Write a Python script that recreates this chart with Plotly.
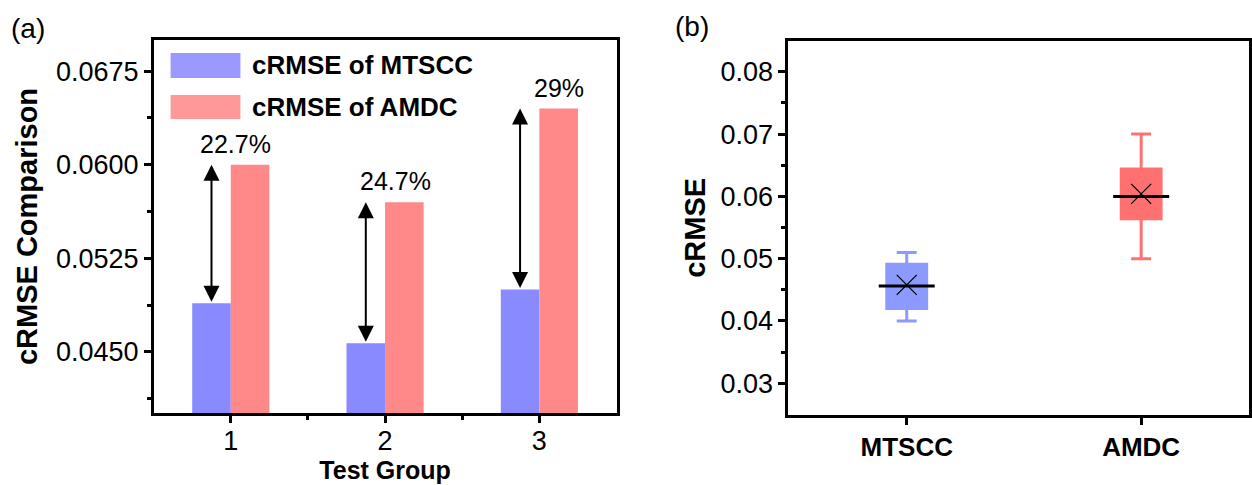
import plotly.graph_objects as go

# ---------------- data ----------------
groups = [1, 2, 3]
mtscc_vals = [0.0489, 0.0457, 0.0500]
amdc_vals = [0.0600, 0.0570, 0.0645]
pct_labels = ["22.7%", "24.7%", "29%"]
pct_label_dx = [0.03, 0.07, 0.13]          # horizontal nudge of the % labels (axis units)

box_names = ["MTSCC", "AMDC"]
box_q1 = [0.0420, 0.0564]
box_median = [0.0456, 0.0600]
box_q3 = [0.0491, 0.0644]
box_low = [0.0400, 0.0500]
box_high = [0.0510, 0.0700]
box_mean = [0.0458, 0.0604]

# ---------------- style ----------------
FONT = "Arial, Liberation Sans, sans-serif"
BLUE_BAR = "#8A8AFF"
RED_BAR = "#FF8888"
BLUE_LEG = "#9999FF"
RED_LEG = "#FF9999"
BLUE_BOX = "#8C99FF"
RED_BOX = "#FF7070"
BAR_W = 0.25

W, H = 1252, 485
fig = go.Figure()

# ---------- panel (a): grouped bars ----------
fig.add_trace(go.Bar(x=groups, y=mtscc_vals, name="cRMSE of MTSCC",
                     marker=dict(color=BLUE_BAR, line=dict(width=0)),
                     xaxis="x", yaxis="y", showlegend=False))
fig.add_trace(go.Bar(x=groups, y=amdc_vals, name="cRMSE of AMDC",
                     marker=dict(color=RED_BAR, line=dict(width=0)),
                     xaxis="x", yaxis="y", showlegend=False))

annotations = []
for g, m, a, lab, dx in zip(groups, mtscc_vals, amdc_vals, pct_labels, pct_label_dx):
    xa = g - BAR_W / 2
    annotations.append(dict(x=xa, y=a, ax=xa, ay=m, xref="x", yref="y", axref="x", ayref="y",
                            text="", showarrow=True, arrowhead=2, startarrowhead=2,
                            arrowside="end+start", arrowsize=1.6, startarrowsize=1.6,
                            arrowwidth=2, arrowcolor="black", standoff=0, startstandoff=0))
    annotations.append(dict(x=g + dx, y=a + 0.0004, xref="x", yref="y", text=lab,
                            showarrow=False, yanchor="bottom", xanchor="center",
                            font=dict(family=FONT, size=25, color="black")))

# custom legend (large swatches like the reference)
shapes = []
leg_items = [("cRMSE of MTSCC", BLUE_LEG, 53, 78), ("cRMSE of AMDC", RED_LEG, 95, 119)]
for text, col, y0, y1 in leg_items:
    shapes.append(dict(type="rect", xref="paper", yref="paper",
                       x0=171 / W, x1=241 / W, y0=1 - y1 / H, y1=1 - y0 / H,
                       fillcolor=col, line=dict(width=0)))
    annotations.append(dict(x=251 / W, y=1 - (y0 + y1) / 2 / H, xref="paper", yref="paper",
                            text=text, showarrow=False, xanchor="left", yanchor="middle",
                            font=dict(family=FONT, size=26, color="black", weight="bold")))

# ---------- panel (b): box plots ----------
for name, q1, med, q3, lo, hi, col in zip(box_names, box_q1, box_median, box_q3,
                                           box_low, box_high, [BLUE_BOX, RED_BOX]):
    fig.add_trace(go.Box(x=[name], q1=[q1], median=[med], q3=[q3],
                         lowerfence=[lo], upperfence=[hi],
                         fillcolor=col, line=dict(color=col, width=3),
                         width=0.17, whiskerwidth=0.5, boxpoints=False,
                         xaxis="x2", yaxis="y2", showlegend=False, name=name))
# median lines (black) and mean markers (X)
fig.add_trace(go.Scatter(x=box_names, y=box_median, mode="markers",
                         marker=dict(symbol="line-ew", size=40, color="black",
                                     line=dict(width=3, color="black")),
                         xaxis="x2", yaxis="y2", showlegend=False))
fig.add_trace(go.Scatter(x=box_names, y=box_mean, mode="markers",
                         marker=dict(symbol="x-thin", size=20, color="black",
                                     line=dict(width=1.3, color="black")),
                         xaxis="x2", yaxis="y2", showlegend=False))

# panel labels
annotations.append(dict(x=9 / W, y=1 - 28 / H, xref="paper", yref="paper", text="(a)",
                        showarrow=False, xanchor="left", yanchor="middle",
                        font=dict(family=FONT, size=28, color="black")))
annotations.append(dict(x=675 / W, y=1 - 26 / H, xref="paper", yref="paper", text="(b)",
                        showarrow=False, xanchor="left", yanchor="middle",
                        font=dict(family=FONT, size=28, color="black")))

axis_common = dict(showline=True, linecolor="black", linewidth=2.5, mirror=True,
                   ticks="outside", tickcolor="black", tickwidth=2.5, ticklen=7,
                   showgrid=False, zeroline=False,
                   tickfont=dict(family=FONT, size=27, color="black"))

fig.update_layout(
    width=W, height=H,
    margin=dict(l=0, r=0, t=0, b=0),
    paper_bgcolor="white", plot_bgcolor="white",
    barmode="group", bargap=0.5, bargroupgap=0,
    shapes=shapes, annotations=annotations,
    xaxis=dict(domain=[154 / W, 618 / W], range=[0.5, 3.5],
               tickvals=groups, ticktext=[str(g) for g in groups],
               ticklabelstandoff=-5,
               minor=dict(tickvals=[1.5, 2.5], ticks="outside", ticklen=4, tickwidth=2.5,
                          tickcolor="black"),
               title=dict(text="Test Group", standoff=4,
                          font=dict(family=FONT, size=25, color="black", weight="bold")),
               anchor="y", **axis_common),
    yaxis=dict(domain=[1 - 413 / H, 1 - 40 / H], range=[0.0401, 0.07],
               tickvals=[0.045, 0.0525, 0.06, 0.0675], tickformat=".4f",
               minor=dict(tickvals=[0.04125, 0.04875, 0.05625, 0.06375],
                          ticks="outside", ticklen=4, tickwidth=2.5, tickcolor="black"),
               title=dict(text="cRMSE Comparison", standoff=10,
                          font=dict(family=FONT, size=29, color="black", weight="bold")),
               anchor="x", **axis_common),
    xaxis2=dict(domain=[790 / W, 1.0], range=[-0.506, 1.46], type="category",
                ticklabelstandoff=0,
                anchor="y2", **{**axis_common,
                                "tickfont": dict(family=FONT, size=26, color="black",
                                                 weight="bold")}),
    yaxis2=dict(domain=[1 - 415 / H, 1 - 40.7 / H], range=[0.0249, 0.085],
                tickvals=[0.03, 0.04, 0.05, 0.06, 0.07, 0.08], tickformat=".2f",
                minor=dict(tickvals=[0.035, 0.045, 0.055, 0.065, 0.075],
                           ticks="outside", ticklen=4, tickwidth=2.5, tickcolor="black"),
                title=dict(text="cRMSE", standoff=7,
                           font=dict(family=FONT, size=29, color="black", weight="bold")),
                anchor="x2", **axis_common),
)

fig.write_html("out.html")
